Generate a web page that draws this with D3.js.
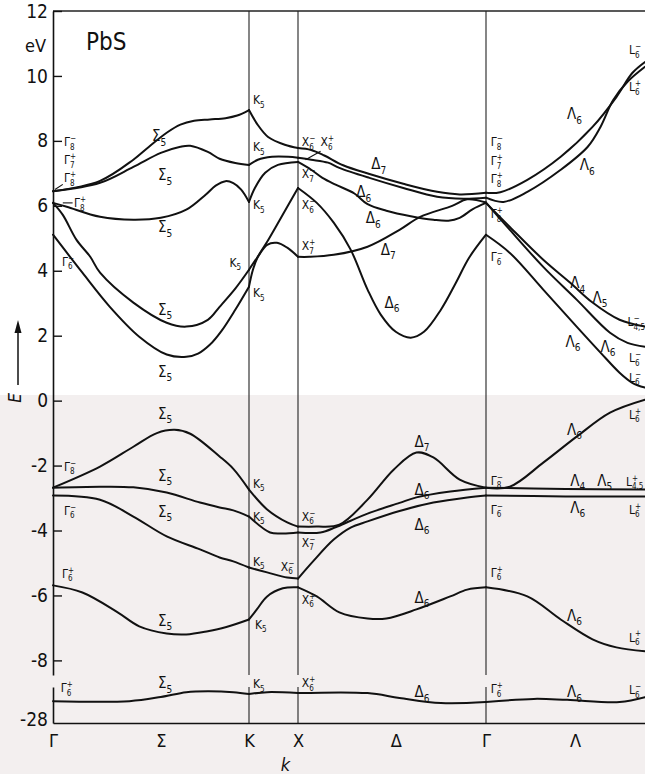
<!DOCTYPE html>
<html>
<head>
<meta charset="utf-8">
<script src="https://cdn.jsdelivr.net/npm/d3@7"></script>
<style>
  body { margin: 0; background: #fff; }
  svg { display: block; }
  text { font-family: 'Liberation Sans Narrow', 'DejaVu Sans Condensed', 'Liberation Sans', sans-serif; fill: #111; }
</style>
</head>
<body>
<div id="chart"></div>
<script>
// k runs along the path: 0 = Γ, 1 = K, 2 = X, 3 = Γ, 4 = L ; energies in eV
const pathTicks = [0, 0.55, 1, 2, 2.52, 3, 3.56]
const pathNames = ['Γ', 'Σ', 'K', 'X', 'Δ', 'Γ', 'Λ']
const energyTicks = [-8, -6, -4, -2, 0, 2, 4, 6, 8, 10, 12]
const lowTicks = [-28]

// conduction bands
const bandC1 = [[0, 6.45], [0.24, 6.77], [0.41, 7.42], [0.49, 7.82], [0.58, 8.25], [0.65, 8.5], [0.72, 8.62], [0.8, 8.66], [0.88, 8.7], [0.94, 8.78], [1, 8.95],
  [1.18, 8.49], [1.39, 8.12], [1.73, 7.88], [2, 7.78],
  [2.07, 7.72], [2.14, 7.55], [2.24, 7.25], [2.38, 6.98], [2.56, 6.68], [2.74, 6.43], [2.86, 6.35], [3, 6.4],
  [3.09, 6.42], [3.26, 6.8], [3.47, 7.51], [3.67, 8.43], [3.82, 9.35], [3.92, 10.09], [4, 10.43]]
const bandC2 = [[0, 6.45], [0.24, 6.71], [0.41, 7.2], [0.55, 7.63], [0.65, 7.82], [0.7, 7.85], [0.79, 7.66], [0.85, 7.45], [0.93, 7.32], [1, 7.26],
  [1.18, 7.42], [1.47, 7.51], [1.8, 7.51], [2, 7.48],
  [2.07, 7.42], [2.16, 7.33], [2.22, 7.17], [2.38, 6.86], [2.56, 6.55], [2.74, 6.28], [2.88, 6.22], [3, 6.25],
  [3.11, 6.12], [3.26, 6.43], [3.47, 7.11], [3.64, 7.82], [3.72, 8.43], [3.8, 9.26], [3.89, 9.82], [4, 10.28]]
const bandC3 = [[0, 6.09], [0.07, 5.97], [0.24, 5.66], [0.41, 5.57], [0.55, 5.63], [0.68, 5.88], [0.78, 6.35], [0.83, 6.62], [0.88, 6.76], [0.92, 6.7], [0.96, 6.5], [1, 6.12],
  [1.12, 6.55], [1.33, 7.02], [1.59, 7.26], [2, 7.35],
  [2.07, 7.11], [2.13, 6.86], [2.2, 6.65], [2.3, 6.38], [2.37, 6.05], [2.47, 5.85], [2.6, 5.68], [2.72, 5.57], [2.8, 5.54], [2.86, 5.63], [2.93, 5.9], [3, 6.09],
  [3.15, 5.35], [3.36, 4.34], [3.53, 3.63], [3.67, 3.02], [3.84, 2.49], [4, 2.28]]
const bandC4 = [[0, 6.09], [0.05, 5.72], [0.12, 4.95], [0.19, 4.43], [0.24, 3.94], [0.41, 3.02], [0.58, 2.4], [0.68, 2.28], [0.79, 2.49], [0.85, 2.89], [0.93, 3.45], [1, 4.03],
  [1.18, 4.43], [1.37, 4.8], [1.57, 4.86], [1.78, 4.71], [2, 4.43],
  [2.06, 4.43], [2.19, 4.49], [2.37, 4.74], [2.54, 5.26], [2.65, 5.66], [2.82, 6.0], [2.9, 6.2], [3, 6.1],
  [3.15, 5.26], [3.36, 4.12], [3.57, 3.11], [3.78, 2.09], [3.89, 1.78], [4, 1.66]]
const bandC5 = [[0, 5.11], [0.15, 3.94], [0.29, 2.89], [0.44, 1.97], [0.58, 1.42], [0.68, 1.35], [0.74, 1.45], [0.8, 1.72], [0.86, 2.15], [0.93, 2.8], [1, 3.51],
  [1.08, 4.03], [1.18, 4.43], [1.37, 4.89], [1.63, 5.57], [2, 6.55],
  [2.1, 6.09], [2.19, 5.48], [2.28, 4.65], [2.37, 3.42], [2.44, 2.65], [2.52, 2.12], [2.6, 1.94], [2.67, 2.12], [2.76, 2.8], [2.84, 3.63], [2.91, 4.4], [3, 5.11],
  [3.15, 4.55], [3.36, 3.42], [3.57, 2.28], [3.72, 1.48], [3.84, 0.86], [3.92, 0.55], [4, 0.4]]

// valence bands
const bandV1 = [[0, -2.68], [0.24, -2.03], [0.41, -1.42], [0.53, -1.0], [0.62, -0.9], [0.7, -1.02], [0.85, -1.72], [0.92, -2.1], [1, -2.74],
  [1.37, -3.35], [1.78, -3.75], [2, -3.88],
  [2.1, -3.88], [2.22, -3.82], [2.37, -3.05], [2.51, -2.12], [2.63, -1.6], [2.72, -1.75], [2.86, -2.43], [3, -2.68],
  [3.15, -2.65], [3.36, -1.91], [3.57, -1.11], [3.78, -0.37], [4, 0.03]]
const bandV2 = [[0, -2.68], [0.24, -2.65], [0.41, -2.67], [0.58, -2.83], [0.75, -3.14], [0.85, -3.29], [0.92, -3.38], [1, -3.57],
  [1.43, -4.06], [1.69, -4.09], [2, -4.06],
  [2.12, -4.06], [2.2, -3.9], [2.28, -3.7], [2.37, -3.48], [2.54, -3.15], [2.63, -2.98], [2.81, -2.8], [3, -2.68],
  [3.5, -2.72], [4, -2.74]]
const bandV3 = [[0, -2.92], [0.24, -3.05], [0.41, -3.57], [0.58, -4.18], [0.75, -4.58], [0.85, -4.83], [0.92, -4.95], [1, -5.14],
  [1.37, -5.29], [1.78, -5.45], [2, -5.48],
  [2.08, -4.95], [2.19, -4.28], [2.28, -3.91], [2.37, -3.72], [2.54, -3.4], [2.72, -3.14], [2.9, -2.98], [3, -2.92],
  [3.5, -2.95], [4, -2.95]]
const bandV4 = [[0, -5.69], [0.15, -5.91], [0.33, -6.52], [0.44, -6.95], [0.58, -7.17], [0.68, -7.2], [0.79, -7.1], [0.88, -6.98], [1, -6.74],
  [1.16, -6.43], [1.37, -6.03], [1.69, -5.78], [2, -5.75],
  [2.1, -6.03], [2.22, -6.52], [2.37, -6.71], [2.47, -6.71], [2.63, -6.43], [2.81, -6.03], [2.9, -5.82], [3, -5.75],
  [3.26, -6.03], [3.47, -6.74], [3.67, -7.35], [3.82, -7.6], [4, -7.72]]
const bandV5 = [[0, -27.42], [0.39, -27.42], [0.55, -27.29], [0.68, -27.14], [0.79, -27.11], [0.92, -27.14], [1, -27.2],
  [1.37, -27.14], [2, -27.17],
  [2.37, -27.17], [2.54, -27.32], [2.76, -27.48], [3, -27.45],
  [3.3, -27.35], [3.51, -27.38], [3.84, -27.45], [4, -27.3]]

const bands = [bandC1, bandC2, bandC3, bandC4, bandC5, bandV1, bandV2, bandV3, bandV4, bandV5]

// [symbol, subscript, superscript, k, E]
const labelsGamma = [
  ['Γ', '8', '−', 0.056, 7.97], ['Γ', '7', '+', 0.056, 7.42], ['Γ', '8', '+', 0.056, 6.86], ['Γ', '8', '+', 0.107, 6.09],
  ['Γ', '6', '−', 0.046, 4.28], ['Γ', '8', '−', 0.056, -2.03], ['Γ', '6', '−', 0.056, -3.38], ['Γ', '6', '+', 0.046, -5.32], ['Γ', '6', '+', 0.04, -27.02],
  ['Γ', '8', '−', 3.03, 7.97], ['Γ', '7', '+', 3.03, 7.38], ['Γ', '8', '+', 3.03, 6.83], ['Γ', '8', '+', 3.03, 5.75], ['Γ', '6', '−', 3.03, 4.43],
  ['Γ', '8', '−', 3.03, -2.46], ['Γ', '6', '−', 3.03, -3.35], ['Γ', '6', '+', 3.03, -5.29], ['Γ', '6', '+', 3.03, -27.05]
]
const labelsK = [
  ['K', '5', '', 1.08, 9.26], ['K', '5', '', 1.08, 7.82], ['K', '5', '', 1.08, 6.03], ['K', '5', '', 0.9, 4.25], ['K', '5', '', 1.08, 3.32],
  ['K', '5', '', 1.08, -2.55], ['K', '5', '', 1.08, -3.57], ['K', '5', '', 1.08, -4.95], ['K', '5', '', 1.12, -6.89], ['K', '5', '', 1.08, -26.89]
]
const labelsX = [
  ['X', '6', '−', 2.02, 7.97], ['X', '6', '+', 2.12, 7.97], ['X', '7', '−', 2.02, 6.98], ['X', '6', '−', 2.02, 6.03], ['X', '7', '+', 2.02, 4.77],
  ['X', '6', '−', 2.02, -3.57], ['X', '7', '−', 2.02, -4.37], ['X', '6', '−', 1.65, -5.11], ['X', '6', '+', 2.02, -6.12], ['X', '6', '+', 2.02, -26.86]
]
const labelsL = [
  ['L', '6', '−', 3.9, 10.8], ['L', '6', '+', 3.9, 9.66], ['L', '4,5', '−', 3.89, 2.43], ['L', '6', '−', 3.9, 1.32], ['L', '6', '−', 3.9, 0.71],
  ['L', '6', '+', 3.9, -0.43], ['L', '4,5', '+', 3.88, -2.49], ['L', '6', '+', 3.9, -3.35], ['L', '6', '+', 3.9, -7.29], ['L', '6', '−', 3.9, -27.08]
]
const labelsSigma = [
  ['Σ', '5', '', 0.505, 8.15], ['Σ', '5', '', 0.536, 6.95], ['Σ', '5', '', 0.536, 5.35], ['Σ', '5', '', 0.536, 2.8], ['Σ', '5', '', 0.536, 0.89],
  ['Σ', '5', '', 0.536, -0.4], ['Σ', '5', '', 0.536, -2.31], ['Σ', '5', '', 0.536, -3.42], ['Σ', '5', '', 0.536, -6.77], ['Σ', '5', '', 0.536, -26.86]
]
const labelsDelta = [
  ['Δ', '7', '', 2.39, 7.29], ['Δ', '6', '', 2.31, 6.43], ['Δ', '6', '', 2.36, 5.63], ['Δ', '7', '', 2.44, 4.65], ['Δ', '6', '', 2.46, 3.02],
  ['Δ', '7', '', 2.62, -1.26], ['Δ', '6', '', 2.62, -2.74], ['Δ', '6', '', 2.62, -3.82], ['Δ', '6', '', 2.62, -6.06], ['Δ', '6', '', 2.62, -27.14]
]
const labelsLambda = [
  ['Λ', '6', '', 3.51, 8.83], ['Λ', '6', '', 3.59, 7.26], ['Λ', '4', '', 3.53, 3.63], ['Λ', '5', '', 3.67, 3.17], ['Λ', '6', '', 3.5, 1.82], ['Λ', '6', '', 3.72, 1.66],
  ['Λ', '6', '', 3.51, -0.89], ['Λ', '4', '', 3.53, -2.46], ['Λ', '5', '', 3.7, -2.46], ['Λ', '6', '', 3.53, -3.29], ['Λ', '6', '', 3.51, -6.62], ['Λ', '6', '', 3.51, -27.14]
]

const W = 645
const H = 774

const x = d3.scaleLinear().domain([0, 1, 2, 3, 4]).range([53, 249, 298, 486, 645])
const yUp = d3.scaleLinear().domain([-8.45, 12]).range([675, 11])
const yLow = d3.scaleLinear().domain([-28.1, -26.98]).range([723, 687])
const yOf = (e) => (e < -20 ? yLow(e) : yUp(e))

const svg = d3.select('#chart').append('svg').attr('width', W).attr('height', H)

// faint scan background in the lower half
svg.append('rect').attr('x', 0).attr('y', 395).attr('width', W).attr('height', H - 395).attr('fill', '#f3efef')

// frame, symmetry lines
const frame = svg.append('g').attr('stroke', '#222').attr('fill', 'none')
frame.append('line').attr('x1', x(0)).attr('x2', x(4)).attr('y1', yUp(12)).attr('y2', yUp(12)).attr('stroke-width', 1.4)
;[1, 2, 3].forEach((k) => {
  frame.append('line').attr('x1', x(k)).attr('x2', x(k)).attr('y1', yUp(12)).attr('y2', yUp.range()[0]).attr('stroke-width', 1.1)
  frame.append('line').attr('x1', x(k)).attr('x2', x(k)).attr('y1', yLow.range()[1]).attr('y2', yLow.range()[0]).attr('stroke-width', 1.1)
})

// axes
function styleAxis(g, size) {
  g.select('.domain').attr('stroke', '#111').attr('stroke-width', 1.6)
  g.selectAll('.tick line').attr('stroke', '#111').attr('stroke-width', 1.4)
  g.selectAll('.tick text').attr('font-size', size).attr('fill', '#111')
    .attr('font-family', "'Liberation Sans Narrow', 'DejaVu Sans Condensed', sans-serif")
}

const axUp = svg.append('g').attr('transform', `translate(${x(0)},0)`)
  .call(d3.axisLeft(yUp).tickValues(energyTicks).tickSize(-9).tickSizeOuter(0).tickPadding(5).tickFormat((d) => String(d)))
styleAxis(axUp, 19)

const axLow = svg.append('g').attr('transform', `translate(${x(0)},0)`)
  .call(d3.axisLeft(yLow).tickValues(lowTicks).tickSize(0).tickSizeOuter(0).tickPadding(5).tickFormat((d) => String(d)))
styleAxis(axLow, 19)

const axBottom = svg.append('g').attr('transform', `translate(0,${yLow.range()[0]})`)
  .call(d3.axisBottom(x).tickValues(pathTicks).tickSize(0).tickSizeOuter(0).tickPadding(11).tickFormat((d, i) => pathNames[i]))
styleAxis(axBottom, 18)

svg.append('text').attr('x', 46).attr('y', 52).attr('text-anchor', 'end').attr('font-size', 18).text('eV')
svg.append('text').attr('x', 86).attr('y', 50).attr('font-size', 24).text('PbS')
svg.append('text').attr('x', x(1.65)).attr('y', 771).attr('font-size', 18).attr('font-style', 'italic')
  .attr('font-family', "'DejaVu Sans', sans-serif").text('k')

// E axis title with arrow
svg.append('text').attr('transform', 'translate(21,398) rotate(-90)').attr('font-size', 17)
  .attr('font-style', 'italic').attr('text-anchor', 'middle').attr('font-family', "'DejaVu Sans', sans-serif").text('E')
svg.append('line').attr('x1', 18).attr('x2', 18).attr('y1', 385).attr('y2', 330).attr('stroke', '#111').attr('stroke-width', 1.5)
svg.append('path').attr('d', 'M18,320L14.5,333L21.5,333Z').attr('fill', '#111')

// bands: drawn segment by segment so cusps at symmetry points stay sharp
const line = d3.line().x((d) => x(d[0])).y((d) => yOf(d[1])).curve(d3.curveCatmullRom.alpha(0.5))
const bandG = svg.append('g').attr('fill', 'none').attr('stroke', '#111').attr('stroke-width', 2)
  .attr('stroke-linejoin', 'round').attr('stroke-linecap', 'round')
bands.forEach((band) => {
  for (let s = 0; s < 4; s++) {
    const part = band.filter((p) => p[0] >= s && p[0] <= s + 1)
    if (part.length > 1) bandG.append('path').attr('d', line(part))
  }
})

// small leader lines next to labels
const leaders = svg.append('g').attr('stroke', '#111').attr('stroke-width', 1.1)
leaders.append('line').attr('x1', x(0.05)).attr('x2', x(0.1)).attr('y1', yUp(6.09)).attr('y2', yUp(6.09))
leaders.append('line').attr('x1', x(2.04)).attr('x2', x(2.12)).attr('y1', yUp(7.42)).attr('y2', yUp(7.68))
leaders.append('line').attr('x1', x(0.01)).attr('x2', x(0.05)).attr('y1', yUp(6.5)).attr('y2', yUp(6.66))

// state labels
function addLabel(g, d, size) {
  const [main, sub, sup, k, e] = d
  const small = Math.round(size * 0.68)
  const t = g.append('text').attr('x', x(k)).attr('y', yOf(e)).attr('dy', '0.35em').attr('font-size', size)
  t.append('tspan').text(main)
  let subLen = 0
  if (sub) {
    const s = t.append('tspan').attr('font-size', small).attr('dy', size * 0.3).text(sub)
    subLen = s.node().getComputedTextLength()
  }
  if (sup) {
    t.append('tspan').attr('font-size', small).attr('dx', -subLen)
      .attr('dy', sub ? -size * 0.72 : -size * 0.4).text(sup)
  }
}

const labelG = svg.append('g')
labelsSigma.concat(labelsDelta, labelsLambda).forEach((d) => addLabel(labelG, d, 15))
labelsGamma.concat(labelsK, labelsX, labelsL).forEach((d) => addLabel(labelG, d, 12))
</script>
</body>
</html>
